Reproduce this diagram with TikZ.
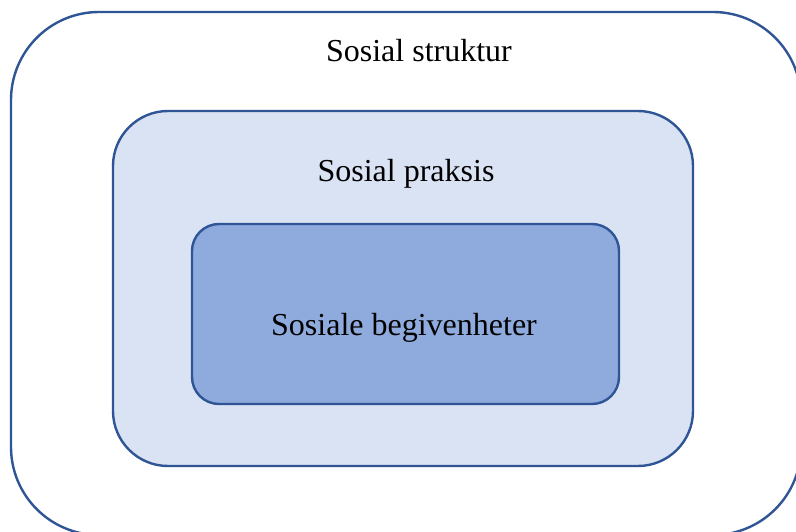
\documentclass[tikz,border=0pt]{standalone}
\usepackage{fontspec}
\setmainfont{Liberation Serif}
\usepackage{tikz}

\definecolor{kant}{HTML}{2F5597}
\definecolor{lysblaa}{HTML}{DAE3F3}
\definecolor{mellomblaa}{HTML}{8FAADC}

\begin{document}
\begin{tikzpicture}[x=1pt,y=-1pt,
	boks/.style={draw=kant, line width=2.4pt, rectangle, inner sep=0pt},
	tekst/.style={font=\fontsize{32}{38}\selectfont, inner sep=0pt}]
	\useasboundingbox (0,0) rectangle (796,532);
	\clip (0,0) rectangle (796,532);
	\node[boks, fill=white, rounded corners=88pt, minimum width=790pt, minimum height=523pt] (struktur) at (406,273.5) {};
	\node[boks, fill=lysblaa, rounded corners=55pt, minimum width=580pt, minimum height=355pt] (praksis) at (403,288.5) {};
	\node[boks, fill=mellomblaa, rounded corners=27pt, minimum width=427pt, minimum height=180pt] (begivenheter) at (405.5,314) {};
	
	\node[tekst] (t1) at (419,50.5) {Sosial struktur};
	\node[tekst] (t2) at (406,174) {Sosial praksis};
	\node[tekst] (t3) at (404,328) {Sosiale begivenheter};
\end{tikzpicture}
\end{document}
